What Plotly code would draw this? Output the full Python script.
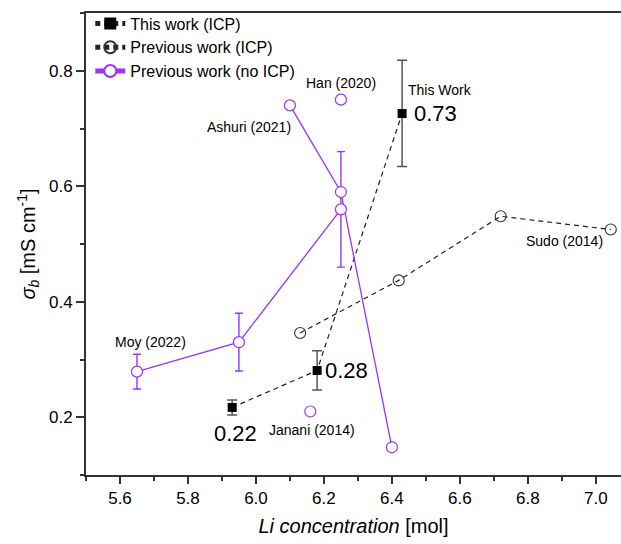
import plotly.graph_objects as go

# This work (ICP)
tw_x = [5.93, 6.18, 6.43]
tw_y = [0.217, 0.281, 0.726]
tw_err = [0.013, 0.034, 0.092]

# Previous work (ICP)
pw_x = [6.13, 6.42, 6.72, 7.044]
pw_y = [0.346, 0.437, 0.548, 0.525]

# Previous work (no ICP) - segments separated by None
np_x = [5.65, 5.95, 6.25, None, 6.10, 6.25, 6.40, None, 6.25, None, 6.16]
np_y = [0.279, 0.33, 0.56, None, 0.74, 0.59, 0.148, None, 0.75, None, 0.21]
np_err = [0.03, 0.05, 0.10, None, 0, 0, 0, None, 0, None, 0]

PURPLE = "#9933FF"
FONT = "Liberation Sans, Arial, sans-serif"

fig = go.Figure()

fig.add_trace(go.Scatter(
    x=tw_x, y=tw_y, mode="lines+markers", name="This work (ICP)",
    line=dict(color="#222222", width=1.2, dash="5px,4px"),
    marker=dict(symbol="square", size=9, color="black"),
    error_y=dict(type="data", array=tw_err, visible=True, color="#555555",
                 thickness=1.5, width=5),
))
fig.add_trace(go.Scatter(
    x=pw_x, y=pw_y, mode="lines+markers", name="Previous work (ICP)",
    line=dict(color="#222222", width=1.2, dash="5px,4px"),
    marker=dict(symbol="circle-open", size=11, color="#333333", line=dict(width=1.1)),
))
fig.add_trace(go.Scatter(
    x=np_x, y=np_y, mode="lines+markers", name="Previous work (no ICP)",
    connectgaps=False,
    line=dict(color=PURPLE, width=1.3),
    marker=dict(symbol="circle", size=11, color="white", line=dict(color=PURPLE, width=1.2)),
    error_y=dict(type="data", array=np_err, visible=True, color=PURPLE,
                 thickness=1.4, width=4),
))

anns = [
    dict(x=tw_x[2], y=0.767, text="This Work", xanchor="left", xshift=4, size=14),
    dict(x=tw_x[2], y=tw_y[2], text="0.73", xanchor="left", xshift=10, size=22),
    dict(x=tw_x[1], y=tw_y[1], text="0.28", xanchor="left", xshift=6, size=22),
    dict(x=tw_x[0], y=0.172, text="0.22", xanchor="center", xshift=3, size=22),
    dict(x=6.25, y=0.779, text="Han (2020)", xanchor="center", size=14),
    dict(x=6.109, y=0.703, text="Ashuri (2021)", xanchor="right", size=14),
    dict(x=5.691, y=0.33, text="Moy (2022)", xanchor="center", size=14),
    dict(x=6.165, y=0.178, text="Janani (2014)", xanchor="center", size=14),
    dict(x=6.909, y=0.505, text="Sudo (2014)", xanchor="center", size=14),
]
for a in anns:
    fig.add_annotation(x=a["x"], y=a["y"], text=a["text"], showarrow=False,
                       xanchor=a["xanchor"], yanchor="middle", xshift=a.get("xshift", 0),
                       font=dict(size=a["size"], color="black", family=FONT))

fig.update_layout(
    width=621, height=544,
    margin=dict(l=86, r=0, t=13, b=69),
    paper_bgcolor="white", plot_bgcolor="white",
    font=dict(family=FONT, color="black"),
    showlegend=True,
    legend=dict(x=0.008, y=1.014, xanchor="left", yanchor="top", bgcolor="rgba(0,0,0,0)",
                font=dict(size=16, family=FONT), tracegroupgap=0, itemsizing="constant"),
    xaxis=dict(
        range=[5.5, 7.074], tickmode="array",
        tickvals=[5.6, 5.8, 6.0, 6.2, 6.4, 6.6, 6.8, 7.0],
        ticktext=["5.6", "5.8", "6.0", "6.2", "6.4", "6.6", "6.8", "7.0"],
        ticks="outside", ticklen=7, tickwidth=1.5, tickcolor="#333333",
        minor=dict(dtick=0.1, tick0=5.5, ticks="outside", ticklen=4, tickwidth=1.5, tickcolor="#333333"),
        showline=True, linecolor="#333333", linewidth=2, mirror=True,
        showgrid=False, zeroline=False,
        tickfont=dict(size=17, family=FONT),
        title=dict(text="<i>Li concentration</i> [mol]", font=dict(size=20, family=FONT), standoff=12),
    ),
    yaxis=dict(
        range=[0.1, 0.9], tickmode="array",
        tickvals=[0.2, 0.4, 0.6, 0.8], ticktext=["0.2", "0.4", "0.6", "0.8"],
        ticks="outside", ticklen=8, tickwidth=1.5, tickcolor="#333333",
        minor=dict(dtick=0.1, tick0=0.1, ticks="outside", ticklen=4, tickwidth=1.5, tickcolor="#333333"),
        showline=True, linecolor="#333333", linewidth=2, mirror=False,
        showgrid=False, zeroline=False,
        tickfont=dict(size=17, family=FONT),
        title=dict(text="<i>σ<sub>b</sub></i> [mS cm<sup>-1</sup>]", font=dict(size=20, family=FONT), standoff=8),
    ),
)

fig.write_html("out.html", config={"displayModeBar": False},
               post_script="document.body.style.margin='0';")
